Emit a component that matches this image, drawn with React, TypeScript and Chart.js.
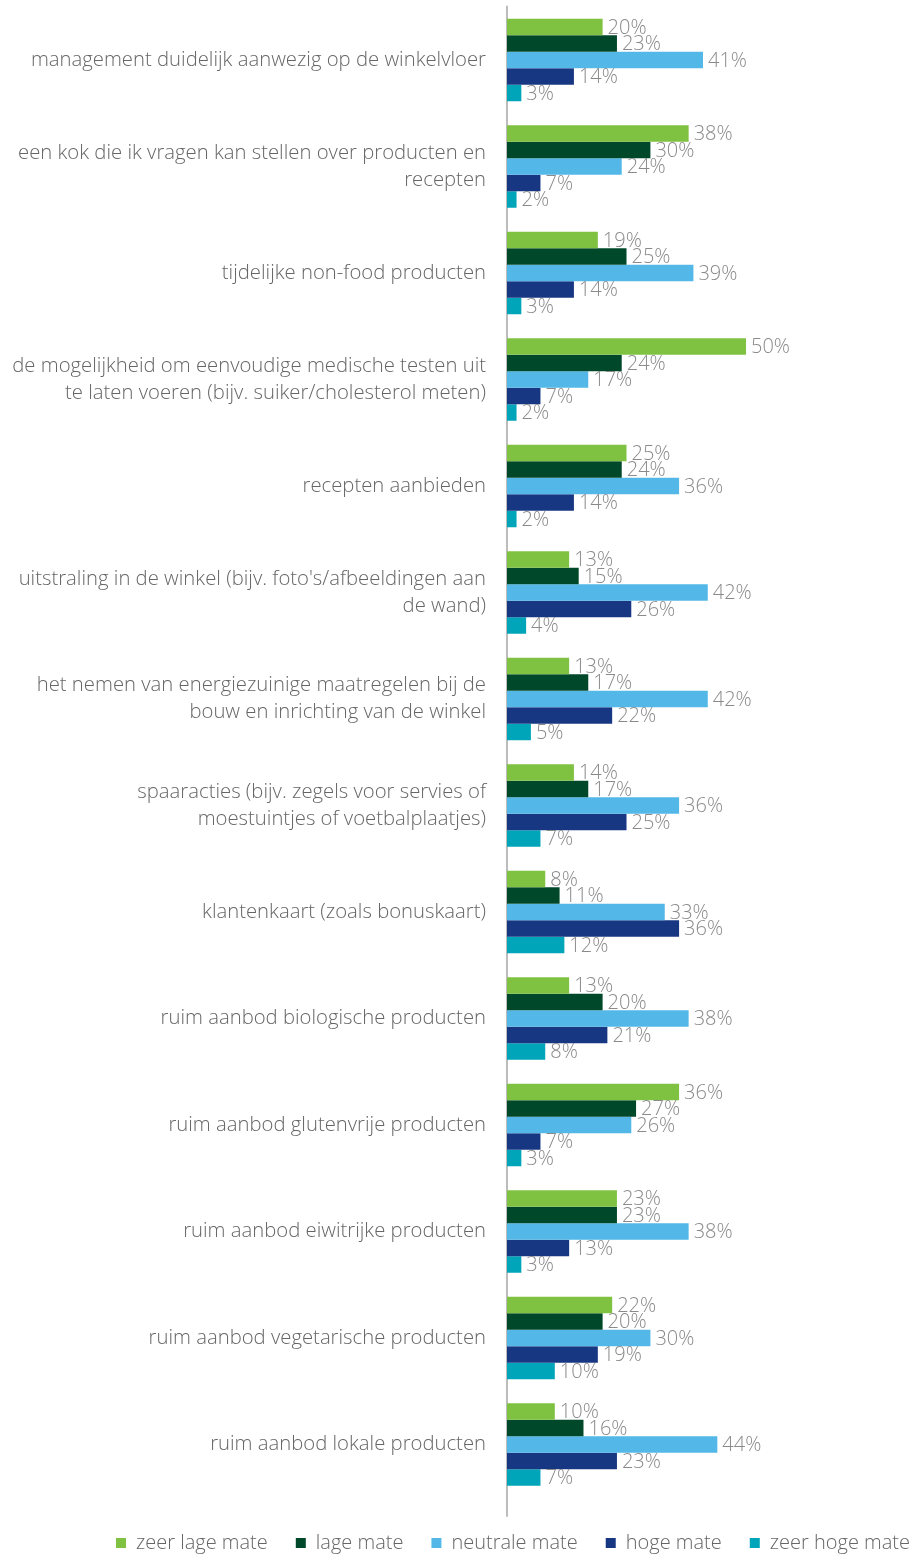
import React, { useEffect, useRef } from "react";
import { Chart, registerables } from "chart.js";

Chart.register(...registerables);

const categories: (string | string[])[] = [
  "management duidelijk aanwezig op de winkelvloer",
  ["een kok die ik vragen kan stellen over producten en", "recepten"],
  "tijdelijke non-food producten",
  ["de mogelijkheid om eenvoudige medische testen uit", "te laten voeren (bijv. suiker/cholesterol meten)"],
  "recepten aanbieden",
  ["uitstraling in de winkel (bijv. foto's/afbeeldingen aan", "de wand)"],
  ["het nemen van energiezuinige maatregelen bij de", "bouw en inrichting van de winkel"],
  ["spaaracties (bijv. zegels voor servies of", "moestuintjes of voetbalplaatjes)"],
  "klantenkaart (zoals bonuskaart)",
  "ruim aanbod biologische producten",
  "ruim aanbod glutenvrije producten",
  "ruim aanbod eiwitrijke producten",
  "ruim aanbod vegetarische producten",
  "ruim aanbod lokale producten",
];

const seriesNames = ["zeer lage mate", "lage mate", "neutrale mate", "hoge mate", "zeer hoge mate"];

const zeerLage = [20, 38, 19, 50, 25, 13, 13, 14, 8, 13, 36, 23, 22, 10];
const lage = [23, 30, 25, 24, 24, 15, 17, 17, 11, 20, 27, 23, 20, 16];
const neutrale = [41, 24, 39, 17, 36, 42, 42, 36, 33, 38, 26, 38, 30, 44];
const hoge = [14, 7, 14, 7, 14, 26, 22, 25, 36, 21, 7, 13, 19, 23];
const zeerHoge = [3, 2, 3, 2, 2, 4, 5, 7, 12, 8, 3, 3, 10, 7];

const colors = ["#7fc241", "#00482a", "#53b8e8", "#183782", "#00a5b9"];

const FONT = "'Open Sans', 'DejaVu Sans', sans-serif";

const valueLabels = {
  id: "valueLabels",
  afterDatasetsDraw(chart: any) {
    const ctx = chart.ctx;
    ctx.save();
    ctx.font = `300 20px ${FONT}`;
    ctx.fillStyle = "#8a8a8a";
    ctx.textAlign = "left";
    ctx.textBaseline = "middle";
    chart.data.datasets.forEach((ds: any, i: number) => {
      const meta = chart.getDatasetMeta(i);
      meta.data.forEach((el: any, j: number) => {
        ctx.fillText(`${ds.data[j]}%`, el.x + 5, el.y + 1);
      });
    });
    ctx.restore();
  },
};

const axisLine = {
  id: "axisLine",
  beforeDatasetsDraw(chart: any) {
    const { ctx, chartArea } = chart;
    ctx.save();
    ctx.strokeStyle = "#a6a6a6";
    ctx.lineWidth = 1.5;
    ctx.beginPath();
    ctx.moveTo(chartArea.left, chartArea.top - 1);
    ctx.lineTo(chartArea.left, chartArea.bottom + 19);
    ctx.stroke();
    ctx.restore();
  },
};

export default function App() {
  const ref = useRef<HTMLCanvasElement>(null);
  useEffect(() => {
    if (!ref.current) return;
    const data = [zeerLage, lage, neutrale, hoge, zeerHoge];
    const chart = new Chart(ref.current, {
      type: "bar",
      data: {
        labels: categories,
        datasets: seriesNames.map((name, i) => ({
          label: name,
          data: data[i],
          backgroundColor: colors[i],
          borderWidth: 0,
          categoryPercentage: 0.775,
          barPercentage: 1,
        })),
      },
      options: {
        indexAxis: "y",
        animation: false,
        responsive: true,
        maintainAspectRatio: false,
        layout: { padding: { left: 0, right: -23, top: 6.75, bottom: -8 } },
        plugins: {
          tooltip: { enabled: false },
          legend: {
            position: "bottom",
            align: "end",
            labels: {
              boxWidth: 10,
              boxHeight: 10,
              padding: 28,
              color: "#666666",
              font: { family: FONT, size: 20, weight: "300" as any },
            },
          },
        },
        scales: {
          x: {
            min: 0,
            max: 85.35,
            display: true,
            grid: { display: false, drawTicks: false },
            border: { display: false },
            ticks: { display: false },
            afterFit: (s: any) => {
              s.height = 7.25;
              s.paddingLeft = 0;
              s.paddingRight = 0;
            },
          },
          y: {
            grid: { display: false, drawTicks: false },
            border: { display: false },
            ticks: {
              padding: 21,
              color: "#666666",
              font: { family: FONT, size: 20.3, weight: "300" as any, lineHeight: 1.33 },
            },
            afterFit: (s: any) => {
              s.width = 507;
              s.paddingTop = 0;
              s.paddingBottom = 0;
            },
          },
        },
      },
      plugins: [axisLine, valueLabels],
    });
    return () => chart.destroy();
  }, []);
  return (
    <div style={{ position: "absolute", left: 0, top: 0, width: 915, height: 1555 }}>
      <canvas ref={ref} />
    </div>
  );
}
